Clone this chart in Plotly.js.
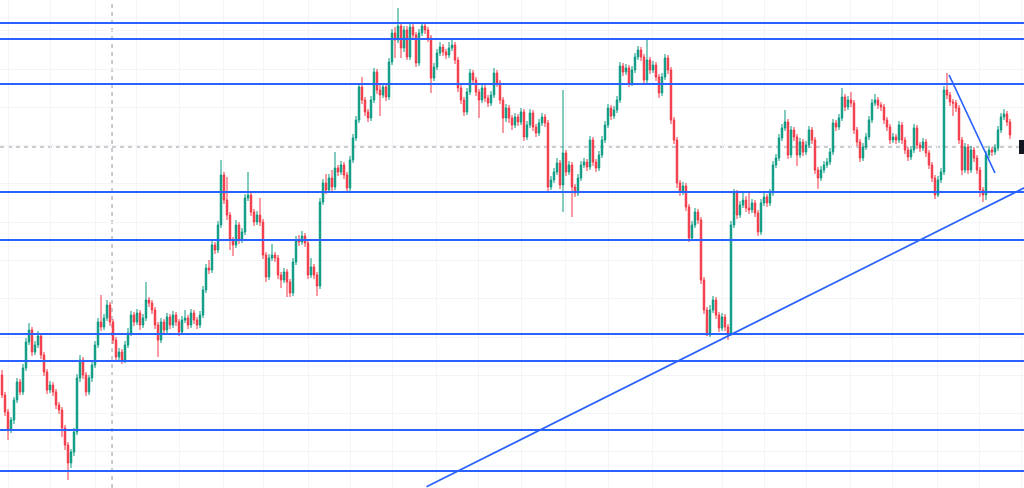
<!DOCTYPE html>
<html>
<head>
<meta charset="utf-8">
<script src="https://cdn.plot.ly/plotly-3.0.1.min.js"></script>
<style>html,body{margin:0;padding:0;background:#fff;}#chart{width:1024px;height:488px;}</style>
</head>
<body>
<div id="chart"></div>
<script>
// candle index (one per bar)
const idx = Array.from({length: 337}, (_, i) => i);

const open = [
113,93,76,58,68,88,106,96,120,146,
158,136,143,152,133,116,98,103,96,83,
78,60,43,25,36,56,110,128,113,96,
110,123,143,166,161,170,183,166,148,131,
136,128,143,155,173,166,175,163,170,188,
185,178,163,148,166,158,171,163,173,166,
156,168,170,163,175,168,163,173,198,220,
218,243,238,263,313,288,273,248,243,263,
248,256,290,293,276,266,273,266,233,211,
230,233,230,213,208,216,206,195,226,248,
246,252,245,213,221,213,202,286,305,298,
310,301,320,316,323,313,300,328,350,368,
401,388,376,370,388,416,398,393,401,391,
426,455,448,462,440,458,431,461,453,425,
455,462,458,450,410,421,435,441,436,433,
440,443,428,400,388,376,396,415,408,396,
388,400,390,385,393,415,405,388,370,380,
370,363,371,366,376,351,363,375,361,355,
365,371,365,301,308,316,325,303,335,316,
323,301,295,310,323,326,321,348,326,320,
333,348,363,380,372,378,388,422,416,420,
405,418,431,438,431,408,428,418,423,411,
395,411,430,418,368,348,305,296,302,281,
250,263,276,268,208,178,153,178,188,173,
160,171,161,155,263,295,273,283,288,280,
278,285,275,256,285,291,285,295,323,330,
350,360,366,333,358,351,333,346,336,343,
358,348,318,310,318,323,326,336,365,361,
370,391,381,388,385,358,346,330,341,351,
368,385,388,383,381,368,361,348,351,348,
363,348,338,331,338,360,343,340,346,335,
323,310,293,308,316,398,393,386,385,380,
348,318,341,318,338,330,318,298,293,333,
338,336,340,358,371,374,366
];

const close = [
93,76,58,68,88,106,96,120,146,158,
136,143,152,133,116,98,103,96,83,78,
60,43,25,36,56,110,128,113,96,110,
123,143,166,161,170,183,166,148,131,136,
128,143,155,173,166,175,163,170,188,185,
178,163,148,166,158,171,163,173,166,156,
168,170,163,175,168,163,173,198,220,218,
243,238,263,313,288,273,248,243,263,248,
256,290,293,276,266,273,266,233,211,230,
233,230,213,208,216,206,195,226,248,246,
252,245,213,221,213,202,286,305,298,310,
301,320,316,323,313,300,328,350,368,401,
388,376,370,388,416,398,393,401,391,426,
455,448,462,440,458,431,461,453,425,455,
462,458,450,410,421,435,441,436,433,440,
443,428,400,388,376,396,415,408,396,388,
400,390,385,393,415,405,388,370,380,370,
363,371,366,376,351,363,375,361,355,365,
371,365,301,308,316,325,303,335,316,323,
301,295,310,323,326,321,348,326,320,333,
348,363,380,372,378,388,422,416,420,405,
418,431,438,431,408,428,418,423,411,395,
411,430,418,368,348,305,296,302,281,250,
263,276,268,208,178,153,178,188,173,160,
171,161,155,263,295,273,283,288,280,278,
285,275,256,285,291,285,295,323,330,350,
360,366,333,358,351,333,346,336,343,358,
348,318,310,318,323,326,336,365,361,370,
391,381,388,385,358,346,330,341,351,368,
385,388,383,381,368,361,348,351,348,363,
348,338,331,338,360,343,340,346,335,323,
310,293,308,316,398,393,386,385,380,348,
318,341,318,338,330,318,298,293,333,338,
336,340,358,371,374,366,353
];

const high = [
118,96,79,71,91,110,109,124,150,165,
161,147,157,155,136,119,107,106,99,86,
81,63,46,39,60,114,133,131,116,113,
127,147,170,193,174,188,186,169,151,140,
139,147,160,177,176,179,178,174,206,191,
188,181,166,170,169,175,174,177,176,169,
172,178,173,179,178,171,177,202,224,228,
247,246,267,328,316,311,276,251,268,266,
260,294,316,296,279,277,290,269,236,234,
244,236,233,216,220,219,209,230,252,253,
257,255,248,230,224,216,290,309,314,314,
318,336,323,327,326,316,332,354,372,405,
411,391,379,392,420,419,403,405,404,430,
459,461,480,466,462,462,465,464,456,459,
466,465,461,453,425,439,446,444,439,446,
450,446,431,403,391,400,419,418,411,399,
404,403,393,397,420,418,408,391,384,383,
373,375,374,380,379,367,379,378,364,369,
375,374,368,312,320,330,328,398,338,327,
326,304,314,327,330,329,352,351,329,337,
352,367,384,383,382,392,426,425,424,423,
422,435,442,441,434,448,431,427,426,414,
415,434,433,421,371,351,308,306,305,284,
267,280,279,271,211,181,183,192,191,176,
175,174,164,267,299,298,287,296,292,296,
289,288,278,289,296,294,299,327,334,354,
364,378,369,362,361,354,350,349,347,362,
361,351,321,322,327,330,340,369,368,374,
400,394,392,396,388,361,349,345,355,372,
389,394,391,386,384,371,364,355,354,367,
366,351,341,342,364,363,346,350,349,338,
326,313,312,320,402,415,396,389,388,383,
351,345,344,342,341,333,321,301,337,342,
341,344,362,375,379,377,369
];

const low = [
90,72,48,55,64,85,93,93,117,143,
132,133,140,129,112,94,95,92,79,74,
51,38,8,20,32,53,106,109,92,93,
106,120,140,157,158,167,162,144,127,128,
124,125,140,152,162,163,158,160,167,181,
174,159,131,145,154,155,159,160,162,152,
153,165,159,160,164,159,160,170,195,214,
215,234,235,260,284,268,238,232,240,244,
245,253,287,272,262,263,262,229,206,208,
227,226,209,200,205,191,191,192,223,242,
243,241,209,210,209,192,199,283,294,295,
297,298,312,313,309,296,297,325,347,365,
384,372,366,367,385,394,372,390,387,388,
423,430,445,430,436,428,428,449,421,422,
452,454,446,395,407,418,432,432,429,430,
437,424,396,384,372,373,393,404,392,370,
385,386,381,382,390,401,384,355,366,365,
358,360,362,363,347,348,360,357,351,352,
362,361,297,298,305,313,299,276,312,313,
271,291,292,307,320,317,318,322,316,317,
330,345,360,368,369,375,385,412,413,401,
402,415,428,427,404,405,414,415,407,390,
392,408,414,364,344,300,292,293,277,246,
247,260,264,204,174,152,151,175,169,156,
157,157,148,152,260,269,270,280,276,274,
275,271,252,253,282,281,282,292,320,327,
347,357,329,330,347,322,330,332,333,340,
344,314,299,307,315,320,323,333,357,358,
367,377,378,381,354,342,326,327,338,348,
365,382,379,377,364,357,344,345,344,345,
344,334,327,328,335,339,336,337,331,319,
306,289,291,305,313,389,382,372,376,344,
313,315,314,315,326,314,291,286,288,330,
332,333,337,355,368,362,349
];

// horizontal support / resistance levels (price)
const levels = [465, 449, 404, 296, 248, 154, 127, 58, 17];
// rising trend line: [index, price] end points
const trendUpX = [141.5, 341];
const trendUpY = [1.25, 300.5];
// falling trend line
const trendDownX = [315.7, 331];
const trendDownY = [413, 315];
// crosshair position
const crossX = 36.67;
const crossY = 341;
// grid positions
const gridX = [2, 16, 31.3, 44.7, 59, 73.7, 87.3, 102, 116.3, 130.3, 144.7, 158.7, 173.3, 187.7, 202, 216.7, 240, 254.3, 268.3, 282.7, 297, 311.7, 325.7, 339.7];
const gridY = [457.5, 419, 381, 343, 304.5, 266, 228, 189.5, 151, 113, 75, 36.5];

const blue = '#2962FF';
const shapes = [];
levels.forEach(v => shapes.push({type:'line', xref:'paper', x0:0, x1:1, yref:'y', y0:v, y1:v, line:{color:blue, width:2}, layer:'above'}));
shapes.push({type:'line', xref:'x', yref:'y', x0:trendUpX[0], x1:trendUpX[1], y0:trendUpY[0], y1:trendUpY[1], line:{color:blue, width:1.7}, layer:'above'});
shapes.push({type:'line', xref:'x', yref:'y', x0:trendDownX[0], x1:trendDownX[1], y0:trendDownY[0], y1:trendDownY[1], line:{color:blue, width:1.7}, layer:'above'});
shapes.push({type:'line', xref:'x', yref:'paper', x0:crossX, x1:crossX, y0:0, y1:1, line:{color:'#9598A1', width:1, dash:'4px,4px'}, layer:'below'});
shapes.push({type:'line', xref:'paper', yref:'y', x0:0, x1:1, y0:crossY, y1:crossY, line:{color:'#9598A1', width:1, dash:'4px,4px'}, layer:'below'});
shapes.push({type:'rect', xref:'paper', yref:'y', x0:1019/1024, x1:1, y0:crossY-7, y1:crossY+7, fillcolor:'#131722', line:{width:0}, layer:'above'});

const trace = {
  type:'candlestick',
  x: idx, open: open, high: high, low: low, close: close,
  increasing:{line:{color:'#089981', width:1}, fillcolor:'#089981'},
  decreasing:{line:{color:'#F23645', width:1}, fillcolor:'#F23645'},
  whiskerwidth:0,
  hoverinfo:'none'
};

const layout = {
  width:1024, height:488,
  margin:{l:0, r:0, t:0, b:0},
  paper_bgcolor:'#ffffff', plot_bgcolor:'#ffffff',
  showlegend:false,
  boxgap:0.3,
  xaxis:{range:[-0.67, 340.67], rangeslider:{visible:false}, showticklabels:false, ticks:'', zeroline:false, showline:false,
         tickmode:'array', tickvals:gridX, showgrid:true, gridcolor:'#F3F4F7', gridwidth:1},
  yaxis:{range:[0, 488], showticklabels:false, ticks:'', zeroline:false, showline:false,
         tickmode:'array', tickvals:gridY, showgrid:true, gridcolor:'#F3F4F7', gridwidth:1},
  shapes: shapes
};

Plotly.newPlot('chart', [trace], layout, {staticPlot:true, displayModeBar:false});
</script>
</body>
</html>
